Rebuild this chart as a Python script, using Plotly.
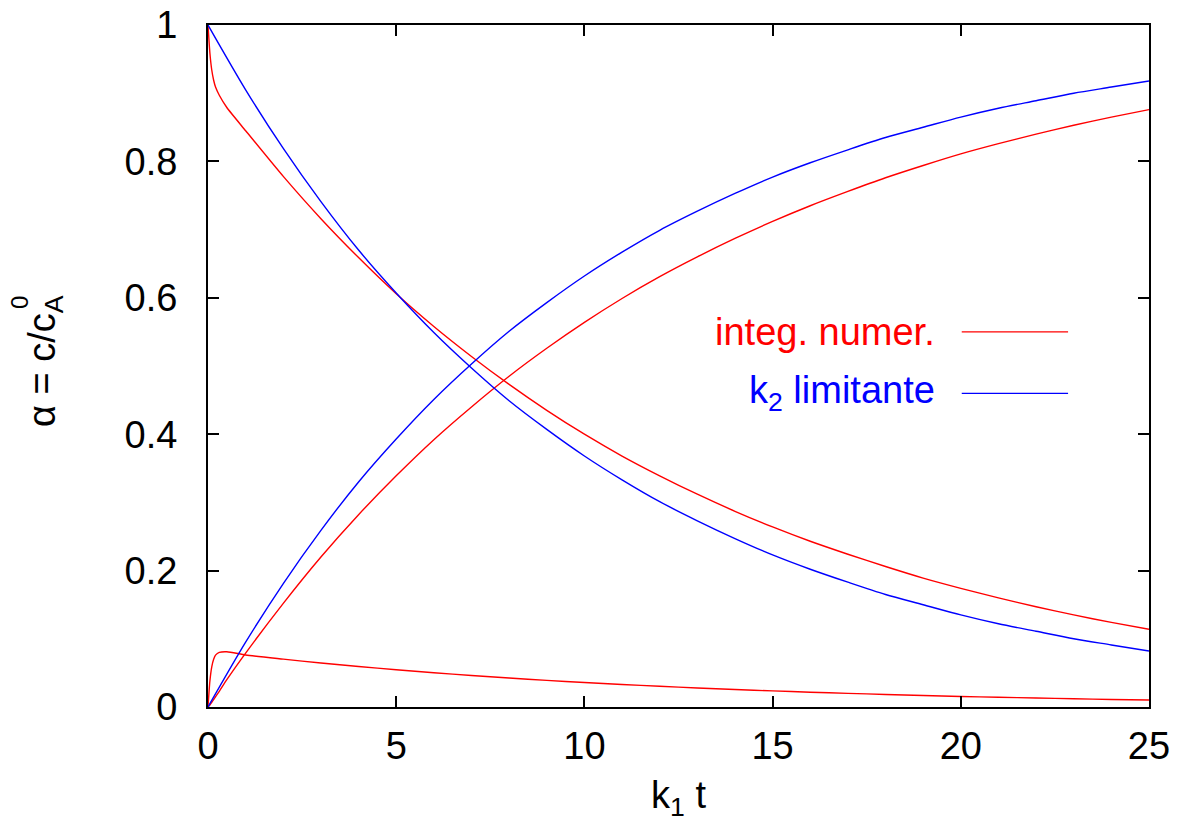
import plotly.graph_objects as go

# Numerical integration of A <=> B -> C (red curves), sampled times
t_num = [0, 0.05, 0.1, 0.15, 0.2, 0.3, 0.5,
         1, 2, 3, 4, 5, 6, 7, 8, 9, 10, 11, 12, 13, 14, 15, 16, 17, 18, 19, 20,
         21, 22, 23, 24, 25]
a_num = [1.0, 0.959, 0.934, 0.919, 0.909, 0.897, 0.879,
         0.845, 0.778, 0.716, 0.659, 0.606, 0.558, 0.514, 0.473, 0.435, 0.400,
         0.368, 0.339, 0.312, 0.287, 0.264, 0.243, 0.224, 0.206, 0.189, 0.174,
         0.160, 0.147, 0.135, 0.124, 0.114]
b_num = [0.0, 0.038, 0.059, 0.070, 0.076, 0.080, 0.081,
         0.0763, 0.0702, 0.0645, 0.0594, 0.0546, 0.0502, 0.0462, 0.0425, 0.0390,
         0.0359, 0.0330, 0.0304, 0.0279, 0.0257, 0.0236, 0.0217, 0.0200, 0.0184,
         0.0169, 0.0155, 0.0143, 0.0131, 0.0121, 0.0111, 0.0102]
c_num = [0.0, 0.003, 0.007, 0.011, 0.015, 0.023, 0.040,
         0.079, 0.152, 0.220, 0.282, 0.339, 0.392, 0.440, 0.485, 0.526, 0.564,
         0.599, 0.631, 0.660, 0.687, 0.712, 0.735, 0.756, 0.776, 0.794, 0.811,
         0.826, 0.840, 0.853, 0.865, 0.876]

# Rate-limiting k2 approximation (blue curves)
t_lim = list(range(0, 26))
a_lim = [1.0, 0.905, 0.819, 0.741, 0.670, 0.607, 0.549, 0.497, 0.449, 0.407,
         0.368, 0.333, 0.301, 0.273, 0.247, 0.223, 0.202, 0.183, 0.165, 0.150,
         0.135, 0.122, 0.111, 0.100, 0.091, 0.082]
c_lim = [0.0, 0.095, 0.181, 0.259, 0.330, 0.393, 0.451, 0.503, 0.551, 0.593,
         0.632, 0.667, 0.699, 0.727, 0.753, 0.777, 0.798, 0.817, 0.835, 0.850,
         0.865, 0.878, 0.889, 0.900, 0.909, 0.918]

x_ticks = [0, 5, 10, 15, 20, 25]
y_ticks = [0, 0.2, 0.4, 0.6, 0.8, 1]

RED = "#ff0000"
BLUE = "#0000ff"
FONT = "Liberation Sans, Arial, Helvetica, sans-serif"
FS = 38
LW = 1.4

fig = go.Figure()
for y in (a_num, b_num, c_num):
    fig.add_trace(go.Scatter(x=t_num, y=y, mode="lines",
                             line=dict(color=RED, width=LW, shape="spline",
                                       smoothing=0.6),
                             showlegend=False))
for y in (a_lim, c_lim):
    fig.add_trace(go.Scatter(x=t_lim, y=y, mode="lines",
                             line=dict(color=BLUE, width=LW, shape="spline",
                                       smoothing=0.8),
                             showlegend=False))

axis_common = dict(
    showgrid=False, zeroline=False, showline=True, mirror="ticks",
    linecolor="black", linewidth=2, ticks="inside", ticklen=11,
    tickwidth=1.5, tickcolor="black", automargin=False,
    tickfont=dict(family=FONT, size=FS, color="black"),
)

fig.update_xaxes(range=[0, 25], tickvals=x_ticks, ticklabelstandoff=4,
                 title=dict(text="k<sub>1</sub> t",
                            font=dict(family=FONT, size=FS, color="black"),
                            standoff=16),
                 **axis_common)
fig.update_yaxes(range=[0, 1], tickvals=y_ticks, ticklabelstandoff=21,
                 **axis_common)

# y-axis title, with stacked sub/superscript on c_A^0
fig.add_annotation(text="α = c/c<sub>A</sub>", textangle=-90,
                   xref="paper", yref="paper", x=0, y=0.5,
                   xanchor="center", yanchor="middle",
                   xshift=-163, yshift=5, showarrow=False,
                   font=dict(family=FONT, size=FS, color="black"))
fig.add_annotation(text="0", textangle=-90,
                   xref="paper", yref="paper", x=0, y=0.5,
                   xanchor="center", yanchor="middle",
                   xshift=-189, yshift=63, showarrow=False,
                   font=dict(family=FONT, size=24, color="black"))

# Legend drawn as labels with line samples
legend_rows = [("integ. numer.", RED, 0.550), ("k<sub>2</sub> limitante", BLUE, 0.460)]
for label, color, yy in legend_rows:
    fig.add_annotation(text=label, xref="paper", yref="paper", x=0.775, y=yy,
                       xanchor="right", yanchor="middle", showarrow=False,
                       font=dict(family=FONT, size=FS, color=color))
    fig.add_shape(type="line", xref="paper", yref="paper",
                  x0=0.801, x1=0.914, y0=yy, y1=yy,
                  line=dict(color=color, width=1.2))

fig.update_layout(
    width=1186, height=833,
    margin=dict(l=208, r=37, t=25, b=126, autoexpand=False),
    plot_bgcolor="white", paper_bgcolor="white",
    font=dict(family=FONT, color="black"),
    showlegend=False,
)

fig.write_html("out.html")
